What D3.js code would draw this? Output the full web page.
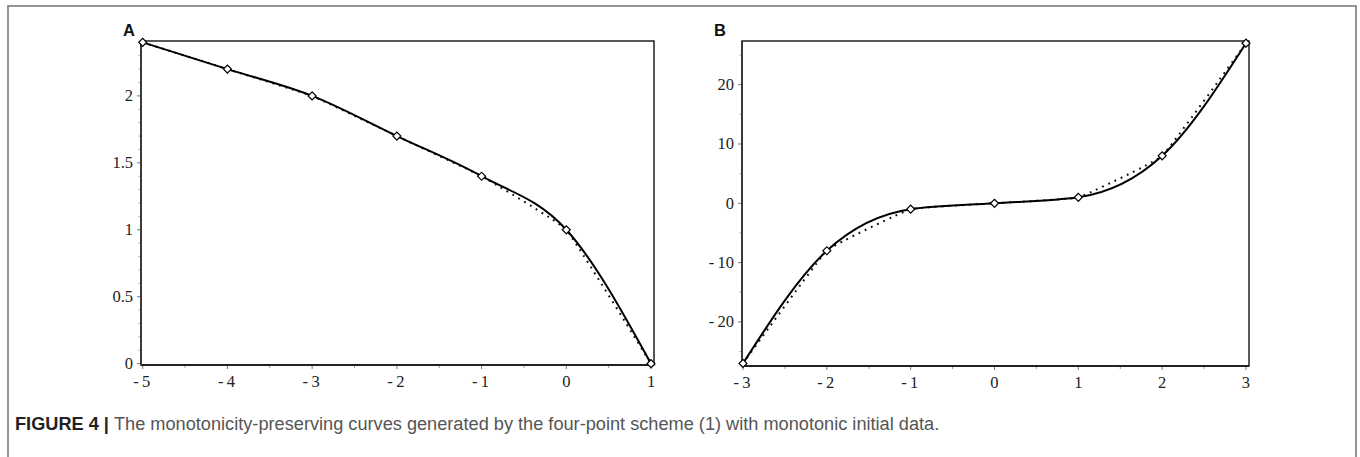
<!DOCTYPE html>
<html><head><meta charset="utf-8">
<script src="https://cdn.jsdelivr.net/npm/d3@7"></script>
<style>html,body{margin:0;padding:0;background:#fff;}svg{display:block;}</style>
</head><body>
<svg id="c" width="1360" height="457"></svg>
<script>
// ---- data ----
const xA = [-5, -4, -3, -2, -1, 0, 1];
const yA = [2.4, 2.2, 2.0, 1.7, 1.4, 1.0, 0];
const xB = [-3, -2, -1, 0, 1, 2, 3];
const yB = [-27, -8, -1, 0, 1, 8, 27];
const xTicksA = [-5, -4, -3, -2, -1, 0, 1];
const yTicksA = [0, 0.5, 1, 1.5, 2];
const yTickLabelsA = ["0", "0.5", "1", "1.5", "2"];
const xTicksB = [-3, -2, -1, 0, 1, 2, 3];
const yTicksB = [-20, -10, 0, 10, 20];
const panelLabels = ["A", "B"];
const captionBold = "FIGURE 4 | ";
const captionText = "The monotonicity-preserving curves generated by the four-point scheme (1) with monotonic initial data.";

const svg = d3.select("#c");
// outer frame
svg.append("rect").attr("x", 8).attr("y", 6).attr("width", 1348).attr("height", 480)
  .attr("fill", "none").attr("stroke", "#7a7a7a").attr("stroke-width", 1.6);

function range(a, b, s) { const r = []; for (let v = a; v <= b + 1e-9; v += s) r.push(+v.toFixed(6)); return r; }
function fmt(v) { return (v < 0 ? "-\u2009" : "") + Math.abs(v); }

function panel(cfg) {
  const g = svg.append("g");
  const x = d3.scaleLinear().domain(cfg.xd).range([cfg.left, cfg.right]);
  const y = d3.scaleLinear().domain(cfg.yd).range([cfg.bottom, cfg.top]);
  const font = "'Liberation Serif','Times New Roman',serif";
  // minor ticks
  g.selectAll(".mx").data(cfg.xMinor).enter().append("line")
    .attr("x1", d => x(d)).attr("x2", d => x(d)).attr("y1", cfg.bottom).attr("y2", cfg.bottom + 3)
    .attr("stroke", "#999").attr("stroke-width", 1);
  g.selectAll(".my").data(cfg.yMinor).enter().append("line")
    .attr("x1", cfg.left - 2.5).attr("x2", cfg.left).attr("y1", d => y(d)).attr("y2", d => y(d))
    .attr("stroke", "#aaa").attr("stroke-width", 1);
  // major ticks
  g.selectAll(".Mx").data(cfg.xTicks).enter().append("line")
    .attr("x1", d => x(d)).attr("x2", d => x(d)).attr("y1", cfg.bottom).attr("y2", cfg.bottom + 4)
    .attr("stroke", "#777").attr("stroke-width", 1);
  g.selectAll(".My").data(cfg.yTicks).enter().append("line")
    .attr("x1", cfg.left - 4).attr("x2", cfg.left).attr("y1", d => y(d)).attr("y2", d => y(d))
    .attr("stroke", "#777").attr("stroke-width", 1);
  // labels
  g.selectAll(".lx").data(cfg.xTicks).enter().append("text")
    .attr("x", d => x(d) - (d < 0 ? 1 : 0)).attr("y", cfg.bottom + 22).attr("text-anchor", "middle")
    .attr("font-family", font).attr("font-size", 16.5).attr("fill", "#222").text(d => fmt(d));
  g.selectAll(".ly").data(cfg.yTicks).enter().append("text")
    .attr("x", cfg.left - 8).attr("y", d => y(d) + 5.5).attr("text-anchor", "end")
    .attr("font-family", font).attr("font-size", 16.5).attr("fill", "#222")
    .text((d, i) => cfg.yLabels ? cfg.yLabels[i] : fmt(d));
  // box
  g.append("rect").attr("x", cfg.left).attr("y", cfg.top).attr("width", cfg.right - cfg.left)
    .attr("height", cfg.bottom - cfg.top).attr("fill", "none").attr("stroke", "#111").attr("stroke-width", 1.4);
  g.append("line").attr("x1", cfg.left).attr("x2", cfg.right).attr("y1", cfg.bottom).attr("y2", cfg.bottom)
    .attr("stroke", "#222").attr("stroke-width", 2);
  g.append("line").attr("x1", cfg.left).attr("x2", cfg.left).attr("y1", cfg.top).attr("y2", cfg.bottom)
    .attr("stroke", "#333").attr("stroke-width", 1.6);
  const pts = cfg.xs.map((v, i) => [v, cfg.ys[i]]);
  // dotted curve
  g.append("path").datum(pts)
    .attr("d", d3.line().x(d => x(d[0])).y(d => y(d[1])).curve(d3.curveCardinal.tension(0.75)))
    .attr("fill", "none").attr("stroke", "#111").attr("stroke-width", 2).attr("stroke-dasharray", "1.8,5");
  // solid curve
  g.append("path").datum(pts)
    .attr("d", d3.line().x(d => x(d[0])).y(d => y(d[1])).curve(d3.curveMonotoneX))
    .attr("fill", "none").attr("stroke", "#000").attr("stroke-width", 2);
  // markers
  g.selectAll(".pt").data(pts).enter().append("path")
    .attr("d", d3.symbol(d3.symbolSquare, 32)())
    .attr("transform", d => `translate(${x(d[0])},${y(d[1])}) rotate(45)`)
    .attr("fill", "#fff").attr("stroke", "#000").attr("stroke-width", 1.2);
  // panel label
  svg.append("text").attr("x", cfg.labelX).attr("y", 36).attr("font-family", "'Liberation Sans',Arial,sans-serif")
    .attr("font-weight", "bold").attr("font-size", 16.5).attr("fill", "#111").text(cfg.label);
}

panel({ xs: xA, ys: yA, xd: [-5.02, 1.035], yd: [-0.01, 2.41], left: 141, right: 654, top: 41, bottom: 365,
  xTicks: xTicksA, yTicks: yTicksA, yLabels: yTickLabelsA,
  xMinor: range(-4.5, 0.5, 1), yMinor: range(0.1, 2.4, 0.1).filter(v => Math.abs(v * 2 - Math.round(v * 2)) > 1e-6),
  label: panelLabels[0], labelX: 123 });
panel({ xs: xB, ys: yB, xd: [-3.012, 3.036], yd: [-27.44, 27.37], left: 742, right: 1249, top: 41, bottom: 366,
  xTicks: xTicksB, yTicks: yTicksB,
  xMinor: range(-2.5, 2.5, 1), yMinor: [-25, -15, -5, 5, 15, 25],
  label: panelLabels[1], labelX: 714 });

// caption
const cap = svg.append("text").attr("x", 15).attr("y", 430)
  .attr("font-family", "'Liberation Sans',Arial,sans-serif").attr("font-size", 16);
cap.append("tspan").attr("font-weight", "bold").attr("fill", "#222").text(captionBold);
cap.append("tspan").attr("fill", "#555").text(captionText);
const w = cap.node().getComputedTextLength();
cap.attr("font-size", 16 * 925 / w);
</script>
</body></html>
